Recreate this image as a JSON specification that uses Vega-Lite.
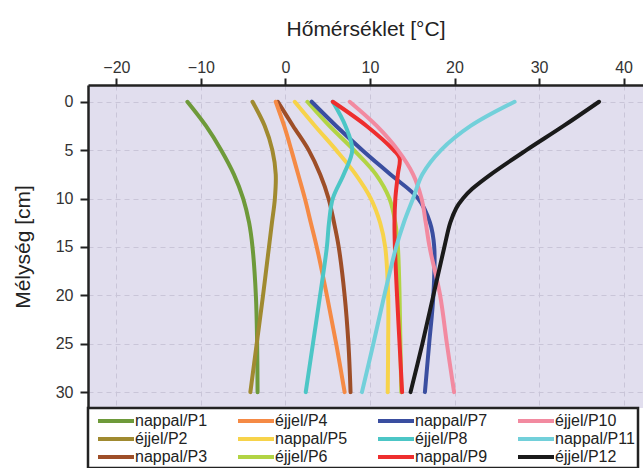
{
  "$schema": "https://vega.github.io/schema/vega-lite/v6.json",
  "autosize": {"type": "none"},
  "padding": {"left": 88, "top": 85, "right": 0, "bottom": 60},
  "width": 555,
  "height": 323,
  "config": {
    "font": "Liberation Sans",
    "view": {"fill": "#E1DEEE", "stroke": null}
  },
  "data": {"values": [
    {"s": "nappal/P1", "d": 0, "t": -11.6}, {"s": "nappal/P1", "d": 2.5, "t": -9.4}, {"s": "nappal/P1", "d": 5, "t": -7.6}, {"s": "nappal/P1", "d": 7.5, "t": -6.1}, {"s": "nappal/P1", "d": 10, "t": -5.0}, {"s": "nappal/P1", "d": 12.5, "t": -4.3}, {"s": "nappal/P1", "d": 15, "t": -3.9}, {"s": "nappal/P1", "d": 20, "t": -3.5}, {"s": "nappal/P1", "d": 25, "t": -3.35}, {"s": "nappal/P1", "d": 30, "t": -3.3},
    {"s": "éjjel/P2", "d": 0, "t": -3.9}, {"s": "éjjel/P2", "d": 2.5, "t": -2.45}, {"s": "éjjel/P2", "d": 5, "t": -1.55}, {"s": "éjjel/P2", "d": 7.5, "t": -1.15}, {"s": "éjjel/P2", "d": 10, "t": -1.25}, {"s": "éjjel/P2", "d": 12.5, "t": -1.6}, {"s": "éjjel/P2", "d": 15, "t": -1.95}, {"s": "éjjel/P2", "d": 20, "t": -2.65}, {"s": "éjjel/P2", "d": 25, "t": -3.4}, {"s": "éjjel/P2", "d": 30, "t": -4.15},
    {"s": "nappal/P3", "d": 0, "t": -0.9}, {"s": "nappal/P3", "d": 2.5, "t": 0.9}, {"s": "nappal/P3", "d": 5, "t": 2.75}, {"s": "nappal/P3", "d": 7.5, "t": 4.1}, {"s": "nappal/P3", "d": 10, "t": 5.1}, {"s": "nappal/P3", "d": 12.5, "t": 5.75}, {"s": "nappal/P3", "d": 15, "t": 6.3}, {"s": "nappal/P3", "d": 20, "t": 7.0}, {"s": "nappal/P3", "d": 25, "t": 7.45}, {"s": "nappal/P3", "d": 30, "t": 7.7},
    {"s": "éjjel/P4", "d": 0, "t": -1.15}, {"s": "éjjel/P4", "d": 2.5, "t": -0.15}, {"s": "éjjel/P4", "d": 5, "t": 0.7}, {"s": "éjjel/P4", "d": 7.5, "t": 1.5}, {"s": "éjjel/P4", "d": 10, "t": 2.3}, {"s": "éjjel/P4", "d": 12.5, "t": 3.0}, {"s": "éjjel/P4", "d": 15, "t": 3.7}, {"s": "éjjel/P4", "d": 20, "t": 4.9}, {"s": "éjjel/P4", "d": 25, "t": 6.0}, {"s": "éjjel/P4", "d": 30, "t": 7.0},
    {"s": "nappal/P5", "d": 0, "t": 1.1}, {"s": "nappal/P5", "d": 2.5, "t": 3.5}, {"s": "nappal/P5", "d": 5, "t": 6.0}, {"s": "nappal/P5", "d": 7.5, "t": 8.3}, {"s": "nappal/P5", "d": 10, "t": 10.1}, {"s": "nappal/P5", "d": 12.5, "t": 11.2}, {"s": "nappal/P5", "d": 15, "t": 11.8}, {"s": "nappal/P5", "d": 20, "t": 12.15}, {"s": "nappal/P5", "d": 25, "t": 12.15}, {"s": "nappal/P5", "d": 30, "t": 12.1},
    {"s": "éjjel/P6", "d": 0, "t": 2.6}, {"s": "éjjel/P6", "d": 2.5, "t": 5.2}, {"s": "éjjel/P6", "d": 5, "t": 8.1}, {"s": "éjjel/P6", "d": 7.5, "t": 10.7}, {"s": "éjjel/P6", "d": 10, "t": 12.3}, {"s": "éjjel/P6", "d": 12.5, "t": 13.0}, {"s": "éjjel/P6", "d": 15, "t": 13.3}, {"s": "éjjel/P6", "d": 20, "t": 13.5}, {"s": "éjjel/P6", "d": 25, "t": 13.6}, {"s": "éjjel/P6", "d": 30, "t": 13.7},
    {"s": "nappal/P7", "d": 0, "t": 3.1}, {"s": "nappal/P7", "d": 2.5, "t": 6.0}, {"s": "nappal/P7", "d": 5, "t": 9.1}, {"s": "nappal/P7", "d": 7.5, "t": 12.4}, {"s": "nappal/P7", "d": 10, "t": 15.7}, {"s": "nappal/P7", "d": 12.5, "t": 17.1}, {"s": "nappal/P7", "d": 15, "t": 17.6}, {"s": "nappal/P7", "d": 20, "t": 17.5}, {"s": "nappal/P7", "d": 25, "t": 17.0}, {"s": "nappal/P7", "d": 30, "t": 16.5},
    {"s": "éjjel/P8", "d": 0, "t": 5.6}, {"s": "éjjel/P8", "d": 2.5, "t": 7.1}, {"s": "éjjel/P8", "d": 5, "t": 7.9}, {"s": "éjjel/P8", "d": 7.5, "t": 6.9}, {"s": "éjjel/P8", "d": 10, "t": 5.6}, {"s": "éjjel/P8", "d": 12.5, "t": 5.15}, {"s": "éjjel/P8", "d": 15, "t": 4.9}, {"s": "éjjel/P8", "d": 20, "t": 4.1}, {"s": "éjjel/P8", "d": 25, "t": 3.25}, {"s": "éjjel/P8", "d": 30, "t": 2.4},
    {"s": "nappal/P9", "d": 0, "t": 5.6}, {"s": "nappal/P9", "d": 2.5, "t": 9.6}, {"s": "nappal/P9", "d": 5, "t": 12.8}, {"s": "nappal/P9", "d": 5.8, "t": 13.5}, {"s": "nappal/P9", "d": 7.5, "t": 13.3}, {"s": "nappal/P9", "d": 10, "t": 13.0}, {"s": "nappal/P9", "d": 12.5, "t": 12.9}, {"s": "nappal/P9", "d": 15, "t": 12.95}, {"s": "nappal/P9", "d": 20, "t": 13.2}, {"s": "nappal/P9", "d": 25, "t": 13.5}, {"s": "nappal/P9", "d": 30, "t": 13.8},
    {"s": "éjjel/P10", "d": 0, "t": 7.6}, {"s": "éjjel/P10", "d": 2.5, "t": 10.8}, {"s": "éjjel/P10", "d": 5, "t": 13.3}, {"s": "éjjel/P10", "d": 7.5, "t": 15.1}, {"s": "éjjel/P10", "d": 10, "t": 16.1}, {"s": "éjjel/P10", "d": 12.5, "t": 16.6}, {"s": "éjjel/P10", "d": 15, "t": 17.05}, {"s": "éjjel/P10", "d": 20, "t": 18.3}, {"s": "éjjel/P10", "d": 25, "t": 19.1}, {"s": "éjjel/P10", "d": 30, "t": 19.95},
    {"s": "nappal/P11", "d": 0, "t": 27.1}, {"s": "nappal/P11", "d": 2.5, "t": 21.9}, {"s": "nappal/P11", "d": 5, "t": 18.4}, {"s": "nappal/P11", "d": 7.5, "t": 16.2}, {"s": "nappal/P11", "d": 10, "t": 15.1}, {"s": "nappal/P11", "d": 12.5, "t": 14.0}, {"s": "nappal/P11", "d": 15, "t": 13.1}, {"s": "nappal/P11", "d": 20, "t": 11.7}, {"s": "nappal/P11", "d": 25, "t": 10.4}, {"s": "nappal/P11", "d": 30, "t": 9.05},
    {"s": "éjjel/P12", "d": 0, "t": 37.1}, {"s": "éjjel/P12", "d": 2.5, "t": 32.9}, {"s": "éjjel/P12", "d": 5, "t": 28.5}, {"s": "éjjel/P12", "d": 7.5, "t": 24.3}, {"s": "éjjel/P12", "d": 9, "t": 22.1}, {"s": "éjjel/P12", "d": 10, "t": 21.0}, {"s": "éjjel/P12", "d": 11, "t": 20.2}, {"s": "éjjel/P12", "d": 12.5, "t": 19.5}, {"s": "éjjel/P12", "d": 15, "t": 18.8}, {"s": "éjjel/P12", "d": 20, "t": 17.5}, {"s": "éjjel/P12", "d": 25, "t": 16.2}, {"s": "éjjel/P12", "d": 30, "t": 14.8}
  ]},
  "mark": {"type": "line", "strokeWidth": 4, "interpolate": "catmull-rom", "strokeCap": "round", "strokeJoin": "round"},
  "encoding": {
    "x": {
      "field": "t", "type": "quantitative",
      "scale": {"domain": [-23.36, 42.3], "nice": false, "zero": false},
      "axis": {
        "orient": "top", "values": [-20, -10, 0, 10, 20, 30, 40],
        "title": "Hőmérséklet [°C]", "titleFontSize": 21, "titleFontWeight": "normal", "titleColor": "#222", "titlePadding": 20,
        "labelFontSize": 16, "labelColor": "#333", "labelPadding": 3,
        "domainColor": "#222", "domainWidth": 2.5,
        "tickColor": "#222", "tickWidth": 2, "tickSize": 7,
        "grid": true, "gridColor": "#C9C5D8", "gridDash": [5, 4], "gridWidth": 1
      }
    },
    "y": {
      "field": "d", "type": "quantitative",
      "scale": {"domain": [-1.73, 31.64], "reverse": true, "nice": false, "zero": false},
      "axis": {
        "values": [0, 5, 10, 15, 20, 25, 30],
        "title": "Mélység [cm]", "titleFontSize": 21, "titleFontWeight": "normal", "titleColor": "#222", "titlePadding": 22,
        "labelFontSize": 16, "labelColor": "#333", "labelPadding": 7,
        "domainColor": "#222", "domainWidth": 2.5,
        "tickColor": "#222", "tickWidth": 2, "tickSize": 8,
        "grid": true, "gridColor": "#C9C5D8", "gridDash": [5, 4], "gridWidth": 1
      }
    },
    "color": {
      "field": "s", "type": "nominal",
      "scale": {
        "domain": ["nappal/P1", "éjjel/P2", "nappal/P3", "éjjel/P4", "nappal/P5", "éjjel/P6", "nappal/P7", "éjjel/P8", "nappal/P9", "éjjel/P10", "nappal/P11", "éjjel/P12"],
        "range": ["#6E9A3A", "#A08A30", "#9E4E28", "#F58A45", "#F7D34A", "#B2D444", "#3A4EA0", "#4CC6C6", "#EE2E2E", "#F28AA0", "#72D0DA", "#1A1A1A"]
      },
      "legend": {
        "orient": "none", "legendX": 0, "legendY": 323, "columns": 4, "title": null,
        "symbolType": "M-2.25,0H2.25", "symbolSize": 256, "symbolStrokeWidth": 4, "symbolOffset": 15,
        "labelFontSize": 16, "labelColor": "#222", "labelOffset": 9, "labelLimit": 200,
        "columnPadding": 15, "rowPadding": -1, "gridAlign": "all", "padding": 3,
        "fillColor": "white", "strokeColor": "#222",
        "encode": {"legend": {"update": {"strokeWidth": {"value": 2.5}}}}
      }
    },
    "order": {"field": "d", "type": "quantitative"}
  }
}
